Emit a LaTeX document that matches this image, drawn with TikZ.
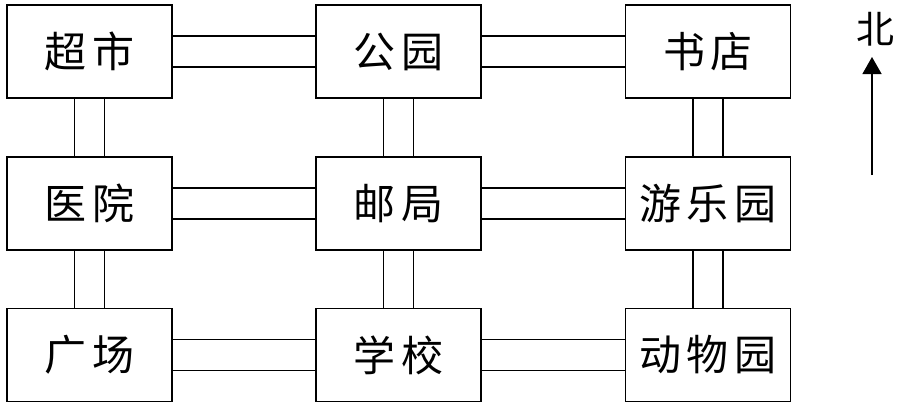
\documentclass[tikz,border=0pt]{standalone}
\usepackage{fontspec}
\newfontfamily\cjk{Noto Sans CJK SC}
\usetikzlibrary{arrows.meta}
\tikzset{
  place/.style={draw, line width=1.4pt, minimum width=165pt, minimum height=93pt, inner sep=0pt, font=\cjk\fontsize{42}{44}\selectfont},
  road/.style={line width=1.4pt}
}
\newcommand{\cg}{\hspace{6pt}}
\begin{document}
\begin{tikzpicture}[x=1pt,y=-1pt]
\useasboundingbox (0,0) rectangle (913,407);
\fill[white] (0,0) rectangle (913,407);
% boxes
\node[place] (a1) at (89.5,51.5) {超\cg 市};
\node[place] (a2) at (398.5,51.5) {公\cg 园};
\node[place] (a3) at (708,51.5) {书\cg 店};
\node[place] (b1) at (89.5,203.5) {医\cg 院};
\node[place] (b2) at (398.5,203.5) {邮\cg 局};
\node[place] (b3) at (708,203.5) {游\cg 乐\cg 园};
\node[place] (c1) at (89.5,355) {广\cg 场};
\node[place] (c2) at (398.5,355) {学\cg 校};
\node[place] (c3) at (708,355) {动\cg 物\cg 园};
% horizontal roads
\foreach \r in {a,b,c}{
  \foreach \l/\m in {1/2,2/3}{
    \draw[road] ([yshift=15.5pt]\r\l.east) -- ([yshift=15.5pt]\r\m.west);
    \draw[road] ([yshift=-15.5pt]\r\l.east) -- ([yshift=-15.5pt]\r\m.west);
  }
}
% vertical roads
\foreach \c in {1,2,3}{
  \foreach \u/\d in {a/b,b/c}{
    \draw[road] ([xshift=-15pt]\u\c.south) -- ([xshift=-15pt]\d\c.north);
    \draw[road] ([xshift=15pt]\u\c.south) -- ([xshift=15pt]\d\c.north);
  }
}
% north arrow
\node[font=\cjk\fontsize{38}{40}\selectfont, inner sep=0pt] (n) at (875,29) {北};
\coordinate (s) at (872,175);
\coordinate (t) at (872,57);
\draw[line width=1.4pt, -{Triangle[width=19pt,length=17pt]}] (s) -- (t);
\end{tikzpicture}
\end{document}
